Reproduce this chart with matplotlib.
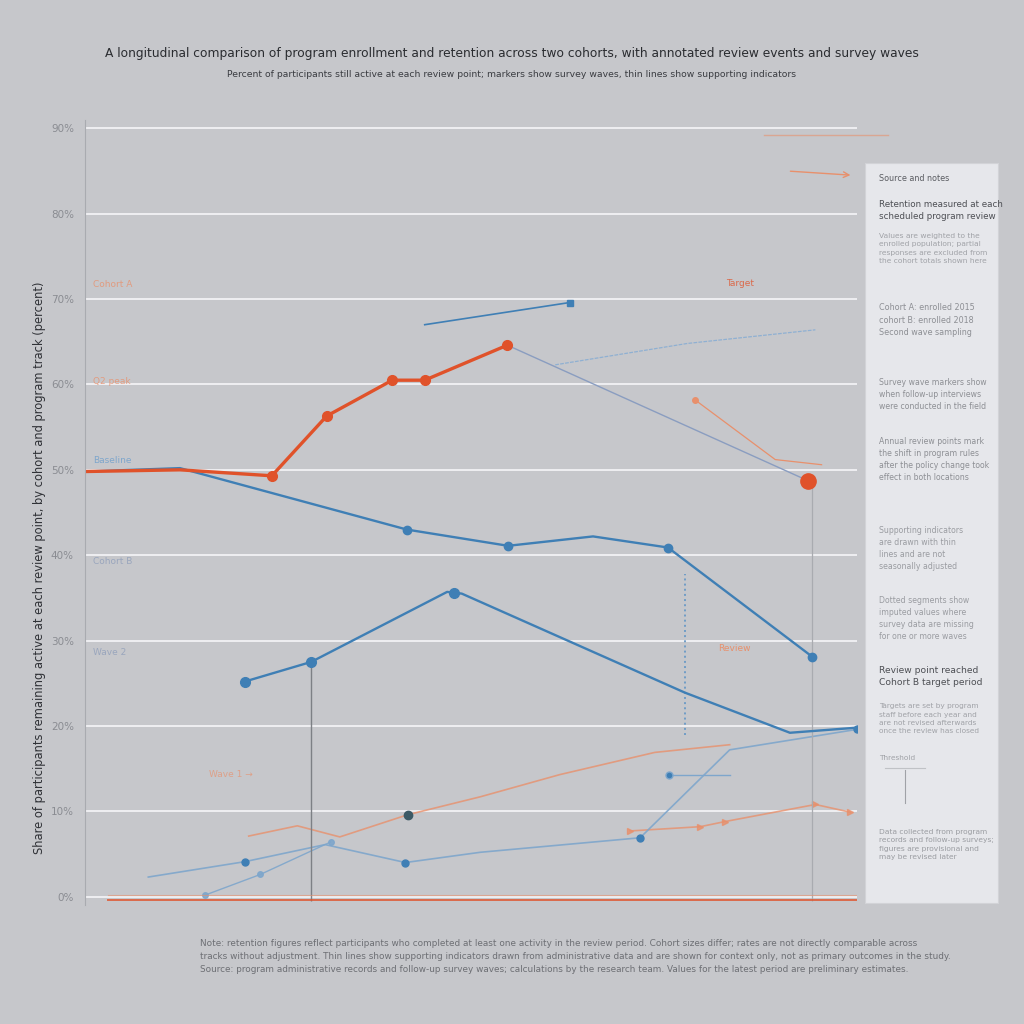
import numpy as np
import matplotlib.pyplot as plt

# main series (x = position along review period, y = percent)
orange_x = [0, 12.3, 24.2, 31.3, 39.8, 44.0, 54.7]
orange_y = [49.8, 50.0, 49.3, 56.3, 60.5, 60.5, 64.6]
orange_tail_x = [54.7, 93.7]
orange_tail_y = [64.6, 48.7]

blue_a_x = [0, 12.3, 41.7, 54.8, 65.8, 75.5, 94.2]
blue_a_y = [49.8, 50.2, 43.0, 41.1, 42.2, 40.9, 28.1]

blue_b_x = [20.7, 29.3, 46.9, 48.8, 77.7, 91.3, 100]
blue_b_y = [25.2, 27.5, 35.7, 35.5, 23.9, 19.2, 19.8]

blue_top_x = [44.0, 62.8]
blue_top_y = [67.0, 69.6]
blue_faint_x = [60.9, 78.0, 94.6]
blue_faint_y = [62.3, 64.8, 66.4]

orange_low1_x = [21.2, 27.5, 33.0, 41.8, 51.2, 61.5, 73.8, 83.5]
orange_low1_y = [7.1, 8.3, 7.0, 9.6, 11.7, 14.3, 16.9, 17.8]
orange_low2_x = [70.6, 79.7, 82.9, 94.6, 99.1]
orange_low2_y = [7.7, 8.2, 8.8, 10.8, 9.9]

blue_low1_x = [8.2, 20.7, 31.1, 41.5, 51.2, 71.9, 83.5, 100]
blue_low1_y = [2.3, 4.1, 6.1, 4.0, 5.2, 6.9, 17.2, 19.6]
blue_low2_x = [15.6, 22.7, 31.8]
blue_low2_y = [0.2, 2.6, 6.4]
blue_short_x = [75.7, 83.5]
blue_short_y = [14.3, 14.3]

orange_note_x = [79.0, 89.4, 95.4]
orange_note_y = [58.2, 51.2, 50.6]

yticks = [0, 10, 20, 30, 40, 50, 60, 70, 80, 90]
ytick_labels = ['0%', '10%', '20%', '30%', '40%', '50%', '60%', '70%', '80%', '90%']

bg = '#c6c7cb'
orange = '#e0522a'
blue = '#3f7fb5'

fig = plt.figure(figsize=(10.24, 10.24), dpi=100, facecolor=bg)
ax = fig.add_axes([0.083, 0.116, 0.754, 0.767])
ax.set_facecolor(bg)
ax.set_xlim(0, 100)
ax.set_ylim(-1, 91)

ax.set_yticks(yticks)
ax.set_yticklabels(ytick_labels, color='#8a8c92', fontsize=7.5)
ax.set_xticks([])
ax.tick_params(axis='y', length=0, pad=8)
ax.grid(axis='y', color='#f2f2f4', lw=1.3)
ax.set_axisbelow(True)
for s in ['top', 'right', 'bottom']:
    ax.spines[s].set_visible(False)
ax.spines['left'].set_color('#a9abb0')
ax.spines['left'].set_linewidth(0.8)

# faint background series
ax.plot(orange_low1_x, orange_low1_y, color='#e8906c', lw=1.2, alpha=0.8)
ax.plot(orange_low2_x, orange_low2_y, color='#e8906c', lw=1.2, alpha=0.8, marker='>', ms=4)
ax.plot(blue_low1_x, blue_low1_y, color='#7ea6cc', lw=1.2, alpha=0.9)
ax.plot(blue_low1_x[1::2], blue_low1_y[1::2], 'o', color=blue, ms=5)
ax.plot(blue_low2_x, blue_low2_y, color='#7ea6cc', lw=1.0, alpha=0.9, marker='o', ms=4)
ax.plot(blue_short_x, blue_short_y, color='#7ea6cc', lw=1.0, marker='o', ms=5, markevery=[0], mfc=blue)
ax.plot(blue_faint_x, blue_faint_y, color='#8fb0d2', lw=0.9, ls=(0, (3, 1)))
ax.plot(orange_note_x, orange_note_y, color='#e8906c', lw=0.9, marker='o', ms=4, markevery=[0])
ax.plot(orange_low1_x[3], orange_low1_y[3], 'o', color='#3d5a66', ms=6)

# reference verticals and baseline
ax.vlines(29.3, -0.5, 27.5, color='#7d8085', lw=1)
ax.vlines(94.2, -0.5, 48.7, color='#a9abb0', lw=0.9)
ax.vlines(77.7, 18.9, 37.8, color='#6f9cc6', lw=1.4, ls=':')
ax.axhline(-0.4, xmin=0.03, color=orange, lw=1.4, alpha=0.8)
ax.axhline(0.2, xmin=0.03, color='#e8906c', lw=0.8, alpha=0.6)

# main series
ax.plot(blue_a_x, blue_a_y, color=blue, lw=1.7)
ax.plot([41.7, 54.8, 75.5, 94.2], [43.0, 41.1, 40.9, 28.1], 'o', color=blue, ms=6)
ax.plot(blue_b_x, blue_b_y, color=blue, lw=1.7)
ax.plot([20.7, 29.3, 47.8], [25.2, 27.5, 35.6], 'o', color=blue, ms=7)
ax.plot(blue_top_x, blue_top_y, color=blue, lw=1.2, marker='s', ms=5, markevery=[1])
ax.plot(orange_tail_x, orange_tail_y, color='#8a9dc0', lw=1.0)
ax.plot(orange_x, orange_y, color=orange, lw=2.4)
ax.plot(orange_x[2:], orange_y[2:], 'o', color=orange, ms=7)
ax.plot(orange_tail_x[1], orange_tail_y[1], 'o', color=orange, ms=11)

# small series labels near the axis
ax.text(1, 71.4, 'Cohort A', color='#e8906c', fontsize=6.5, alpha=0.8)
ax.text(1, 60.0, 'Q2 peak', color='#e8906c', fontsize=6.5, alpha=0.8)
ax.text(1, 50.8, 'Baseline', color='#7ea6cc', fontsize=6.5)
ax.text(1, 39.0, 'Cohort B', color='#9aa6bd', fontsize=6.5)
ax.text(1, 28.3, 'Wave 2', color='#9aa6bd', fontsize=6.5)
ax.text(16, 14.0, 'Wave 1 \u2192', color='#e8906c', fontsize=6.5, alpha=0.7)
ax.text(83, 71.5, 'Target', color=orange, fontsize=6.5, alpha=0.8)
ax.text(82, 28.8, 'Review', color='#e8906c', fontsize=6.5)
ax.annotate('', xy=(99.5, 84.5), xytext=(91, 85.0),
            arrowprops=dict(arrowstyle='->', color='#e8906c', lw=1))
ax.plot([88, 104], [89.2, 89.2], color='#e8906c', lw=1, alpha=0.6, clip_on=False)

ax.set_ylabel('Share of participants remaining active at each review point, by cohort and program track (percent)',
              fontsize=8.3, color='#2f3136', labelpad=6)
ax.yaxis.set_label_coords(-0.05, 0.43)

# title and subtitle
fig.text(0.5, 0.944, 'A longitudinal comparison of program enrollment and retention across two cohorts, with annotated review events and survey waves',
         ha='center', fontsize=8.8, color='#2a2c30')
fig.text(0.5, 0.925, 'Percent of participants still active at each review point; markers show survey waves, thin lines show supporting indicators',
         ha='center', fontsize=6.7, color='#3a3c41')

# right-hand notes panel
panel = fig.add_axes([0.845, 0.118, 0.13, 0.723])
panel.set_facecolor('#e6e7eb')
panel.set_xticks([])
panel.set_yticks([])
for s in panel.spines.values():
    s.set_color('#d2d3d7')
notes = [
    (0.985, 'Source and notes', 5.8, '#5a5c61'),
    (0.95, 'Retention measured at each\nscheduled program review', 6.3, '#4d4f54'),
    (0.905, 'Values are weighted to the\nenrolled population; partial\nresponses are excluded from\nthe cohort totals shown here', 5.4, '#a0a2a7'),
    (0.81, 'Cohort A: enrolled 2015\ncohort B: enrolled 2018\nSecond wave sampling', 5.8, '#8d8f94'),
    (0.71, 'Survey wave markers show\nwhen follow-up interviews\nwere conducted in the field', 5.6, '#8d8f94'),
    (0.63, 'Annual review points mark\nthe shift in program rules\nafter the policy change took\neffect in both locations', 5.6, '#8d8f94'),
    (0.51, 'Supporting indicators\nare drawn with thin\nlines and are not\nseasonally adjusted', 5.6, '#9a9ca1'),
    (0.415, 'Dotted segments show\nimputed values where\nsurvey data are missing\nfor one or more waves', 5.6, '#9a9ca1'),
    (0.32, 'Review point reached\nCohort B target period', 6.6, '#4d4f54'),
    (0.27, 'Targets are set by program\nstaff before each year and\nare not revised afterwards\nonce the review has closed', 5.3, '#a0a2a7'),
    (0.2, 'Threshold', 5.3, '#a0a2a7'),
    (0.1, 'Data collected from program\nrecords and follow-up surveys;\nfigures are provisional and\nmay be revised later', 5.4, '#9a9ca1'),
]
for y, txt, fs, c in notes:
    panel.text(0.1, y, txt, fontsize=fs, color=c, va='top', linespacing=1.45, transform=panel.transAxes)
panel.plot([0.3, 0.3], [0.18, 0.135], color='#a0a2a7', lw=0.8)
panel.plot([0.15, 0.45], [0.183, 0.183], color='#c0c2c6', lw=0.8)
panel.set_xlim(0, 1)
panel.set_ylim(0, 1)

# footnote
fig.text(0.195, 0.066,
         'Note: retention figures reflect participants who completed at least one activity in the review period. Cohort sizes differ; rates are not directly comparable across\n'
         'tracks without adjustment. Thin lines show supporting indicators drawn from administrative data and are shown for context only, not as primary outcomes in the study.\n'
         'Source: program administrative records and follow-up survey waves; calculations by the research team. Values for the latest period are preliminary estimates.',
         fontsize=6.4, color='#6d6f74', linespacing=1.6, va='center')

fig.savefig('out.png', dpi=100, facecolor=bg)
